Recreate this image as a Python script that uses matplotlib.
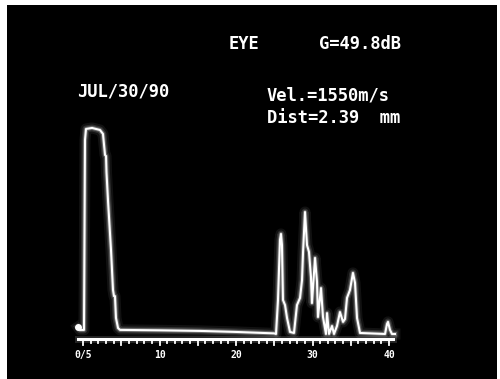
import matplotlib
matplotlib.use("Agg")
import matplotlib.pyplot as plt
from matplotlib.patches import Rectangle
import numpy as np

# A-scan trace: depth units vs echo amplitude (% of full)
depth = [-0.65, -0.39, 0.13, 0.26, 0.39, 1.18, 2.22, 2.61, 2.88, 3.01, 3.07,
         3.27, 3.66, 3.92, 4.05, 4.18, 4.31, 4.58, 4.84, 10.0, 15.3, 20.0,
         25.0, 25.23, 25.49, 25.75, 25.88, 26.01, 26.14, 26.41, 26.67, 27.06,
         27.58, 27.97, 28.37, 28.63, 28.76, 29.02, 29.28, 29.54, 29.80, 29.93,
         30.33, 30.59, 30.72, 31.11, 31.37, 31.76, 31.90, 32.16, 32.55, 32.81,
         33.20, 33.59, 33.99, 34.25, 34.51, 34.90, 35.29, 35.56, 35.82, 36.21,
         39.48, 39.74, 39.87, 40.13, 40.39, 40.78]
amplitude = [3.4, 2.0, 2.0, 94.6, 100.0, 100.5, 99.5, 97.6, 87.3, 86.8, 79.0,
             65.0, 41.0, 21.5, 18.5, 18.5, 7.8, 2.9, 2.0, 1.8, 1.5, 1.0,
             0.3, 0.0, 16.6, 45.9, 48.8, 43.4, 16.6, 14.1, 7.8, 1.0,
             0.5, 14.1, 17.6, 26.3, 39.5, 59.5, 43.4, 40.0, 27.8, 15.1,
             37.1, 25.4, 8.3, 22.4, 8.3, 0.0, 10.2, 0.0, 3.9, 0.0,
             3.9, 10.7, 5.9, 7.3, 17.6, 21.5, 29.8, 24.9, 7.8, 0.5,
             0.0, 4.9, 5.9, 2.0, 0.0, 0.0]

tick_labels = {0: "0/5", 10: "10", 20: "20", 30: "30", 40: "40"}

header_left = "EYE"
header_right = "G=49.8dB"
date_text = "JUL/30/90"
vel_text = "Vel.=1550m/s"
dist_text = "Dist=2.39  mm"

W, H = 500, 379
fig = plt.figure(figsize=(W / 100, H / 100), dpi=100)
fig.patch.set_facecolor("white")

# black screen inside a thin white margin (left/top/right)
fig.patches.append(Rectangle((7 / W, 0), 490 / W, 1 - 5 / H,
                             transform=fig.transFigure, facecolor="black",
                             edgecolor="none", zorder=0))

ax = fig.add_axes([0, 0, 1, 1])
ax.set_zorder(2)
ax.set_facecolor("none")
ax.set_xlim(-10.85, 54.51)
ax.set_ylim(-21.95, 162.9)
ax.axis("off")

# phosphor glow + trace
for lw, a in ((8, 0.07), (5, 0.13), (3, 0.28)):
    ax.plot(depth, amplitude, color="white", lw=lw, alpha=a,
            solid_joinstyle="round", zorder=2)
ax.plot(depth, amplitude, color="white", lw=1.5, solid_joinstyle="round", zorder=3)
ax.plot(depth[0], amplitude[0], "o", color="white", ms=4, zorder=4)

# depth scale with ticks
axis_y = -2.4
ax.plot([-0.65, 40.5], [axis_y, axis_y], color="white", lw=5, alpha=0.15, zorder=2)
ax.plot([-0.65, 40.5], [axis_y, axis_y], color="white", lw=2.2, zorder=3)
for t in range(0, 41):
    tl = 3.0 if t % 5 == 0 else 2.0
    ax.plot([t, t], [axis_y, axis_y - tl], color="white", lw=1.3, zorder=3)
for t, lab in tick_labels.items():
    ax.text(t, -10.2, lab, color="white", fontsize=7, fontweight="bold",
            family="DejaVu Sans Mono", ha="center", va="center")

def put(txt, x, y):
    fig.text(x / W, 1 - y / H, txt, color="white", fontsize=12.3,
             fontweight="bold", family="DejaVu Sans Mono",
             ha="left", va="center", zorder=3)

put(header_left, 229, 44)
put(header_right, 319, 44)
put(date_text, 77, 91)
put(vel_text, 267, 95)
put(dist_text, 267, 118)

fig.savefig("out.png", dpi=100, facecolor=fig.get_facecolor())
